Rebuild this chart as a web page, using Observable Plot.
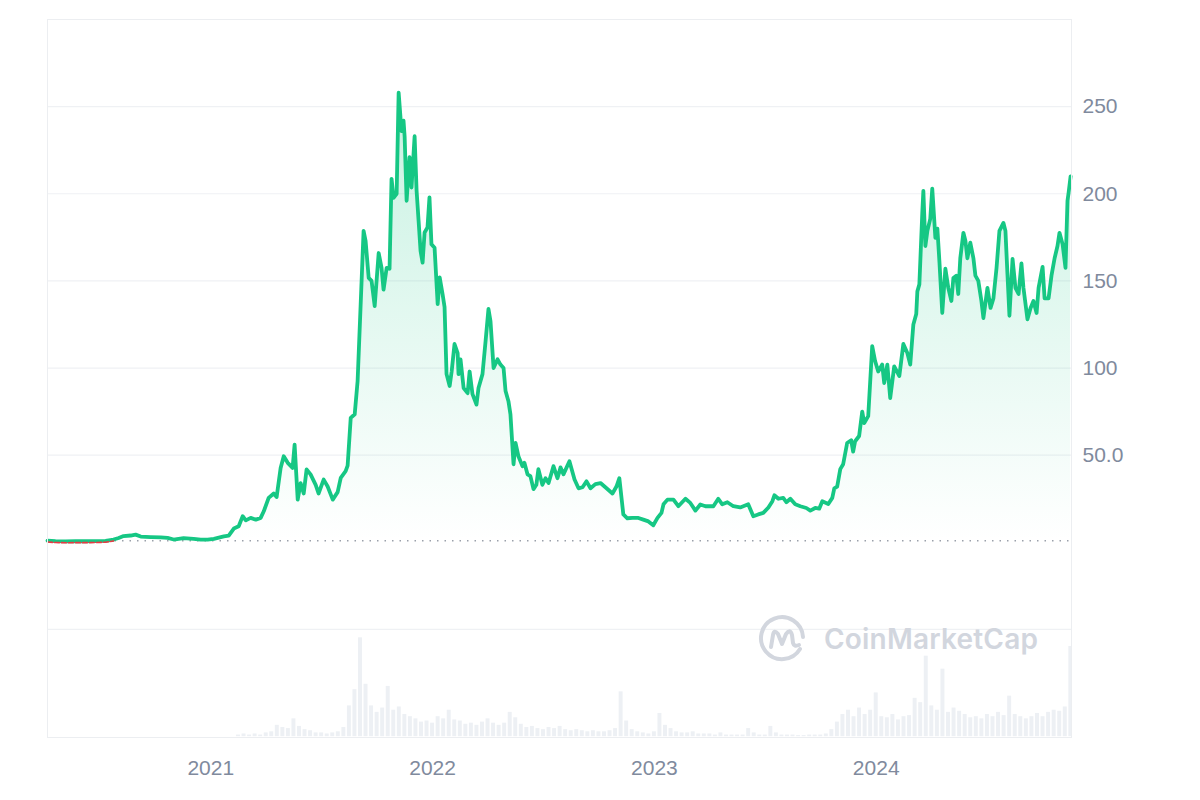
<!DOCTYPE html>
<html><head><meta charset="utf-8">
<script src="https://cdn.jsdelivr.net/npm/d3@7"></script>
<script src="https://cdn.jsdelivr.net/npm/@observablehq/plot@0.6"></script>
<style>
body{margin:0;background:#fff;}
#wrap{position:relative;width:1200px;height:800px;overflow:hidden;}
#wm{position:absolute;left:758px;top:614px;display:flex;align-items:center;pointer-events:none;}
#wm span{font-family:Inter,"Noto Sans",sans-serif;font-weight:600;font-size:28px;color:#d2d6de;margin-left:16px;letter-spacing:0.2px;}
</style></head><body>
<div id="wrap"><div id="chart"></div>
<div id="wm"><svg width="50" height="50" viewBox="0 0 50 50"><path d="M42 35 A21 21 0 1 1 45 23" fill="none" stroke="#d2d6de" stroke-width="4" stroke-linecap="round"/><path d="M13 33 L15 21 Q16 15 20 20 L24 30 L28 20 Q32 14 34 21 L35 29 Q36 33 41 31" fill="none" stroke="#d2d6de" stroke-width="4" stroke-linecap="round" stroke-linejoin="round"/></svg><span>CoinMarketCap</span></div>
</div>
<script>
// Price points: [decimal year, price USD]
const pricePoints = [
[2020.266,0.95],[2020.302,0.7],[2020.347,0.55],[2020.392,0.65],[2020.437,0.6],[2020.482,0.7],[2020.527,0.85],[2020.563,1.6],[2020.586,2.5],[2020.608,3.6],[2020.640,3.9],[2020.662,4.4],[2020.685,3.3],[2020.730,3.0],[2020.775,2.8],[2020.806,2.5],[2020.833,1.6],[2020.878,2.4],[2020.923,2.0],[2020.955,1.6],[2020.986,1.5],
[2021.014,2.0],[2021.059,3.4],[2021.081,3.8],[2021.104,7.9],[2021.126,9.2],[2021.144,15],[2021.158,12.6],[2021.180,14],[2021.203,13],[2021.225,14],[2021.239,17.8],[2021.261,25.5],[2021.284,28],[2021.297,26],[2021.315,42.7],[2021.329,49.4],[2021.347,45.6],[2021.369,42.7],[2021.378,56],[2021.392,24.5],[2021.405,34],[2021.419,28],[2021.432,41.8],[2021.450,39],[2021.473,33],[2021.486,28],[2021.509,36],[2021.527,32],[2021.550,24.5],[2021.572,28.8],[2021.586,37],[2021.608,40.8],[2021.617,44],[2021.631,71.4],[2021.649,73.5],[2021.662,92.5],[2021.689,178.7],[2021.698,173],[2021.712,151.7],[2021.725,150],[2021.739,135.6],[2021.757,166],[2021.770,157.5],[2021.779,145],[2021.793,157.5],[2021.806,157],[2021.815,208.6],[2021.824,197.7],[2021.838,200],[2021.847,258],[2021.860,236],[2021.869,242],[2021.874,233],[2021.883,196],[2021.896,221],[2021.905,203.6],[2021.919,233],[2021.928,201.7],[2021.937,184.5],[2021.946,167],[2021.955,160.5],[2021.964,177.8],[2021.977,180.6],[2021.986,197.9],[2021.995,171],
[2022.009,169],[2022.023,136.7],[2022.032,152],[2022.045,142.5],[2022.054,135],[2022.063,96.5],[2022.077,89.7],[2022.086,98],[2022.099,113.8],[2022.113,108.6],[2022.117,96.5],[2022.126,105],[2022.140,88.5],[2022.158,85.6],[2022.167,98],[2022.180,85],[2022.198,79],[2022.207,88.5],[2022.225,96.5],[2022.239,115.5],[2022.252,133.9],[2022.261,127],[2022.275,100],[2022.293,105],[2022.306,102],[2022.320,100],[2022.329,86.8],[2022.342,81],[2022.351,73.5],[2022.365,44.8],[2022.374,57],[2022.387,49.4],[2022.405,43.7],[2022.414,45.6],[2022.428,39],[2022.441,38],[2022.455,30.5],[2022.468,33],[2022.477,42],[2022.495,33],[2022.509,36.8],[2022.523,34],[2022.545,43.7],[2022.563,36.8],[2022.577,43],[2022.590,39],[2022.617,46.5],[2022.640,36],[2022.658,31],[2022.676,31.6],[2022.694,35],[2022.712,31],[2022.734,33.4],[2022.757,34],[2022.779,31.6],[2022.811,28],[2022.829,32],[2022.842,36.8],[2022.860,16],[2022.878,13.8],[2022.901,14],[2022.928,14],[2022.950,13],[2022.973,12],[2022.995,9.8],
[2023.014,14],[2023.032,16.9],[2023.041,21.8],[2023.059,24.5],[2023.086,24.5],[2023.108,20.7],[2023.140,25],[2023.162,22.6],[2023.185,18.2],[2023.207,21.7],[2023.230,20.7],[2023.266,20.7],[2023.288,25],[2023.306,21.8],[2023.329,23],[2023.356,20.7],[2023.387,20],[2023.423,21.8],[2023.446,15],[2023.468,16],[2023.491,16.9],[2023.514,20],[2023.532,23.6],[2023.541,27],[2023.559,25],[2023.581,25.5],[2023.595,23],[2023.613,25],[2023.635,21.8],[2023.658,20.7],[2023.685,19.7],[2023.703,18.2],[2023.725,19.7],[2023.743,19.3],[2023.757,23.6],[2023.784,22],[2023.802,25.5],[2023.811,31],[2023.824,32],[2023.838,42],[2023.851,44.8],[2023.869,57],[2023.887,58.6],[2023.896,52],[2023.905,58],[2023.923,61],[2023.937,75],[2023.946,68.4],[2023.964,72.4],[2023.982,112.6],[2023.995,104],
[2024.009,98],[2024.027,102],[2024.036,91.4],[2024.050,102],[2024.063,82.8],[2024.081,101],[2024.104,95.4],[2024.122,113.8],[2024.140,108.6],[2024.153,102],[2024.167,125],[2024.180,131],[2024.185,144],[2024.194,148],[2024.207,188.5],[2024.212,201.7],[2024.221,170],[2024.230,178.7],[2024.243,185.6],[2024.252,202.9],[2024.266,174.7],[2024.275,180],[2024.284,161.5],[2024.297,131.6],[2024.311,157],[2024.324,146],[2024.338,138.5],[2024.347,151.7],[2024.360,153],[2024.369,142.5],[2024.378,163],[2024.392,177.6],[2024.401,173],[2024.410,163],[2024.423,172],[2024.437,163],[2024.446,153],[2024.459,150],[2024.473,138.5],[2024.482,128.7],[2024.500,146],[2024.514,134.5],[2024.527,140],[2024.541,157.5],[2024.554,178.7],[2024.572,183.3],[2024.581,178.7],[2024.590,154],[2024.599,130],[2024.613,162.6],[2024.626,146],[2024.640,142.5],[2024.653,160],[2024.662,146],[2024.680,128],[2024.694,134.5],[2024.707,138.5],[2024.721,131.6],[2024.730,146],[2024.748,158],[2024.757,140],[2024.775,140],[2024.788,153],[2024.802,163],[2024.815,170],[2024.824,177.6],[2024.838,171],[2024.851,157.5],[2024.860,196],[2024.865,200.6],[2024.874,210]
];

// Volume points: [decimal year, volume in billions USD]
const volumePoints = [
[2020.275,0.03],[2020.300,0.03],[2020.325,0.03],[2020.350,0.03],[2020.375,0.03],[2020.400,0.03],[2020.425,0.03],[2020.450,0.03],[2020.475,0.03],[2020.500,0.03],[2020.525,0.03],[2020.550,0.03],[2020.575,0.04],[2020.600,0.04],[2020.625,0.05],[2020.650,0.05],[2020.675,0.04],[2020.700,0.04],[2020.725,0.03],[2020.750,0.03],[2020.775,0.03],[2020.800,0.03],[2020.825,0.03],[2020.850,0.03],[2020.875,0.03],[2020.900,0.03],[2020.925,0.03],[2020.950,0.03],[2020.975,0.04],
[2021.000,0.05],[2021.025,0.05],[2021.050,0.08],[2021.075,0.1],[2021.100,0.15],[2021.125,0.3],[2021.150,0.4],[2021.175,0.3],[2021.200,0.4],[2021.225,0.3],[2021.250,0.5],[2021.275,0.6],[2021.300,1.2],[2021.325,1.0],[2021.350,0.9],[2021.375,1.8],[2021.400,1.1],[2021.425,0.8],[2021.450,0.7],[2021.475,0.5],[2021.500,0.5],[2021.525,0.4],[2021.550,0.5],[2021.575,0.6],[2021.600,1.0],[2021.625,3.0],[2021.650,4.5],[2021.675,9.3],[2021.700,5.0],[2021.725,3.0],[2021.750,2.4],[2021.775,2.8],[2021.800,4.8],[2021.825,2.6],[2021.850,2.9],[2021.875,2.2],[2021.900,2.0],[2021.925,1.8],[2021.950,1.5],[2021.975,1.6],
[2022.000,1.4],[2022.025,2.0],[2022.050,1.8],[2022.075,2.6],[2022.100,1.7],[2022.125,1.6],[2022.150,1.3],[2022.175,1.4],[2022.200,1.2],[2022.225,1.5],[2022.250,1.8],[2022.275,1.4],[2022.300,1.2],[2022.325,1.4],[2022.350,2.4],[2022.375,1.9],[2022.400,1.3],[2022.425,1.0],[2022.450,1.1],[2022.475,0.9],[2022.500,0.8],[2022.525,1.0],[2022.550,0.9],[2022.575,1.1],[2022.600,0.8],[2022.625,0.7],[2022.650,0.8],[2022.675,0.7],[2022.700,0.6],[2022.725,0.7],[2022.750,0.6],[2022.775,0.6],[2022.800,0.7],[2022.825,0.9],[2022.850,4.3],[2022.875,1.6],[2022.900,0.8],[2022.925,0.6],[2022.950,0.5],[2022.975,0.4],
[2023.000,0.6],[2023.025,2.3],[2023.050,1.2],[2023.075,0.9],[2023.100,0.6],[2023.125,0.5],[2023.150,0.5],[2023.175,0.6],[2023.200,0.4],[2023.225,0.4],[2023.250,0.4],[2023.275,0.3],[2023.300,0.5],[2023.325,0.3],[2023.350,0.3],[2023.375,0.3],[2023.400,0.3],[2023.425,0.9],[2023.450,0.5],[2023.475,0.3],[2023.500,0.3],[2023.525,1.1],[2023.550,0.5],[2023.575,0.3],[2023.600,0.3],[2023.625,0.3],[2023.650,0.25],[2023.675,0.25],[2023.700,0.3],[2023.725,0.3],[2023.750,0.3],[2023.775,0.4],[2023.800,0.8],[2023.825,1.5],[2023.850,2.2],[2023.875,2.6],[2023.900,2.0],[2023.925,2.8],[2023.950,2.2],[2023.975,2.6],
[2024.000,4.2],[2024.025,2.0],[2024.050,1.9],[2024.075,2.2],[2024.100,1.7],[2024.125,2.0],[2024.150,2.1],[2024.175,3.7],[2024.200,3.3],[2024.225,7.6],[2024.250,3.0],[2024.275,2.6],[2024.300,6.4],[2024.325,2.4],[2024.350,2.8],[2024.375,2.5],[2024.400,2.2],[2024.425,1.9],[2024.450,2.0],[2024.475,1.8],[2024.500,2.2],[2024.525,2.0],[2024.550,2.4],[2024.575,2.1],[2024.600,3.9],[2024.625,2.2],[2024.650,2.0],[2024.675,1.8],[2024.700,2.0],[2024.725,2.3],[2024.750,2.0],[2024.775,2.4],[2024.800,2.6],[2024.825,2.5],[2024.850,2.9],[2024.875,8.5]
];

const yTicks = [50, 100, 150, 200, 250];
const xTickYears = [2021, 2022, 2023, 2024];
const xStartYear = 2020.266, xEndYear = 2024.878;
const volHalfStep = 0.0125;

function fromDecimalYear(y) {
  const yr = Math.floor(y);
  const s = Date.UTC(yr, 0, 1), e = Date.UTC(yr + 1, 0, 1);
  return new Date(s + (y - yr) * (e - s));
}

const price = pricePoints.map(([t, v]) => ({date: fromDecimalYear(t), value: v}));
const baseline = price[0].value;
const belowStart = price.slice(0, 8);

// volume panel shares the y scale: it occupies the band below -50
const volBase = -112, volUnit = 6.2;
const volume = volumePoints.map(([t, v]) => ({
  d0: fromDecimalYear(t - volHalfStep),
  d1: fromDecimalYear(t + volHalfStep),
  v0: volBase,
  v1: volBase + v * volUnit
}));

const defs = () => {
  const d = d3.create("svg:defs");
  const g = d.append("linearGradient").attr("id", "solGrad").attr("x1", 0).attr("x2", 0).attr("y1", 0).attr("y2", 1);
  g.append("stop").attr("offset", "0%").attr("stop-color", "#16c784").attr("stop-opacity", 0.24);
  g.append("stop").attr("offset", "100%").attr("stop-color", "#16c784").attr("stop-opacity", 0.0);
  return d.node();
};

const chart = Plot.plot({
  width: 1200,
  height: 800,
  marginTop: 19,
  marginBottom: 63,
  marginLeft: 47,
  marginRight: 129,
  style: {fontFamily: "'Liberation Sans', Arial, sans-serif", background: "#fff"},
  x: {type: "utc", domain: [fromDecimalYear(xStartYear), fromDecimalYear(xEndYear)]},
  y: {domain: [volBase, 300]},
  marks: [
    defs,
    Plot.ruleY(yTicks, {stroke: "#eff1f4", strokeWidth: 1.2}),
    Plot.ruleY([-50], {stroke: "#eff1f4", strokeWidth: 1.2}),
    Plot.rect(volume, {x1: "d0", x2: "d1", y1: "v0", y2: "v1", fill: "#edf0f4", inset: 0.8, clip: true}),
    Plot.areaY(price, {x: "date", y1: baseline, y2: "value", fill: "url(#solGrad)"}),
    Plot.ruleY([baseline], {stroke: "#9aa0aa", strokeWidth: 1.5, strokeDasharray: "1.5 6"}),
    Plot.line(price, {x: "date", y: "value", stroke: "#16c784", strokeWidth: 3.8, strokeLinejoin: "round", strokeLinecap: "round"}),
    Plot.line(belowStart, {x: "date", y: "value", stroke: "#ea3943", strokeWidth: 1.6, dy: 1.4, strokeDasharray: "5 2"}),
    Plot.frame({stroke: "#eceef1"}),
    Plot.axisY(yTicks, {anchor: "right", tickSize: 0, tickPadding: 11, fontSize: 21, color: "#808a9d",
      tickFormat: d => d < 100 ? d.toFixed(1) : String(d)}),
    Plot.axisX(xTickYears.map(y => new Date(Date.UTC(y, 0, 1))), {anchor: "bottom", tickSize: 0, tickPadding: 23, fontSize: 21, color: "#808a9d",
      tickFormat: d3.utcFormat("%Y")})
  ]
});
document.getElementById("chart").appendChild(chart);
</script>
</body></html>
